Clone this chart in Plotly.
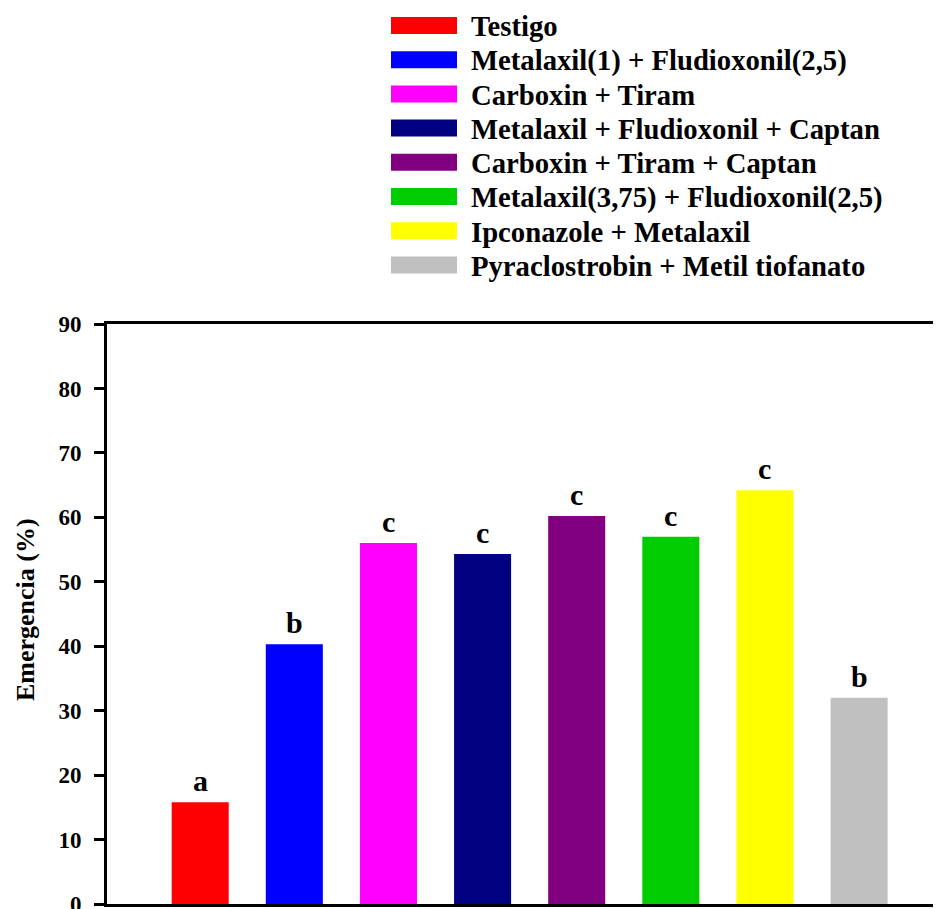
import plotly.graph_objects as go

treatments = [
    "Testigo",
    "Metalaxil(1) + Fludioxonil(2,5)",
    "Carboxin + Tiram",
    "Metalaxil + Fludioxonil + Captan",
    "Carboxin + Tiram + Captan",
    "Metalaxil(3,75) + Fludioxonil(2,5)",
    "Ipconazole + Metalaxil",
    "Pyraclostrobin + Metil tiofanato",
]
emergencia = [15.8, 40.3, 56.0, 54.3, 60.2, 57.0, 64.2, 32.0]
letters = ["a", "b", "c", "c", "c", "c", "c", "b"]
colors = ["#FF0000", "#0000FF", "#FF00FF", "#000080", "#800080", "#00CC00", "#FFFF00", "#C0C0C0"]
yticks = [0, 10, 20, 30, 40, 50, 60, 70, 80, 90]

FONT = "Liberation Serif, Times New Roman, serif"

OFF = 8  # page body margin
W, H = 941 - OFF, 909 - OFF
L, T, B = 107 - OFF, 324 - OFF, 904 - OFF
PW, PH = W - L, B - T


def px(xp):
    return (xp - OFF - L) / PW


def py(yp):
    return (B - (yp - OFF)) / PH


fig = go.Figure()
xs = list(range(len(treatments)))
fig.add_trace(go.Bar(
    x=xs, y=emergencia, width=0.606,
    marker=dict(color=colors, line=dict(width=0)),
    showlegend=False, hoverinfo="skip",
))

for i, (v, l) in enumerate(zip(emergencia, letters)):
    fig.add_annotation(x=i, y=v, text=f"<b>{l}</b>", showarrow=False,
                       yanchor="bottom", yshift=3,
                       font=dict(family=FONT, size=30, color="black"))

# custom legend
row0, rowstep = 25.5, 34.2
for i, (name, c) in enumerate(zip(treatments, colors)):
    yc = row0 + rowstep * i
    fig.add_shape(type="rect", xref="paper", yref="paper",
                  x0=px(391), x1=px(457),
                  y0=py(yc + 8.5), y1=py(yc - 8.5),
                  fillcolor=c, line=dict(width=0))
    fig.add_annotation(xref="paper", yref="paper",
                       x=px(469), y=py(yc + 1),
                       text=f"<b>{name}</b>", showarrow=False,
                       xanchor="left", yanchor="middle",
                       font=dict(family=FONT, size=28.7, color="black"))

fig.add_annotation(xref="paper", yref="paper", x=px(25), y=py(610),
                   text="<b>Emergencia (%)</b>", showarrow=False, textangle=-90,
                   xanchor="center", yanchor="middle",
                   font=dict(family=FONT, size=26, color="black"))

fig.update_layout(
    width=W, height=H,
    margin=dict(l=L, r=0, t=T, b=H - B),
    paper_bgcolor="white", plot_bgcolor="white",
    font=dict(family=FONT, color="black"),
    xaxis=dict(range=[-0.99, 7.87], showticklabels=False, ticks="",
               showgrid=False, zeroline=False, automargin=False,
               showline=True, linecolor="black", linewidth=3, mirror=True),
    yaxis=dict(range=[0, 90], tickvals=yticks,
               ticktext=[f"<b>{t}</b>" for t in yticks],
               ticks="outside", ticklen=10, tickwidth=3, tickcolor="black",
               ticklabelstandoff=8, ticklabeloverflow="allow", automargin=False,
               tickfont=dict(family=FONT, size=23, color="black"),
               showgrid=False, zeroline=False,
               showline=True, linecolor="black", linewidth=3, mirror=False),
)

fig.write_html("out.html")
